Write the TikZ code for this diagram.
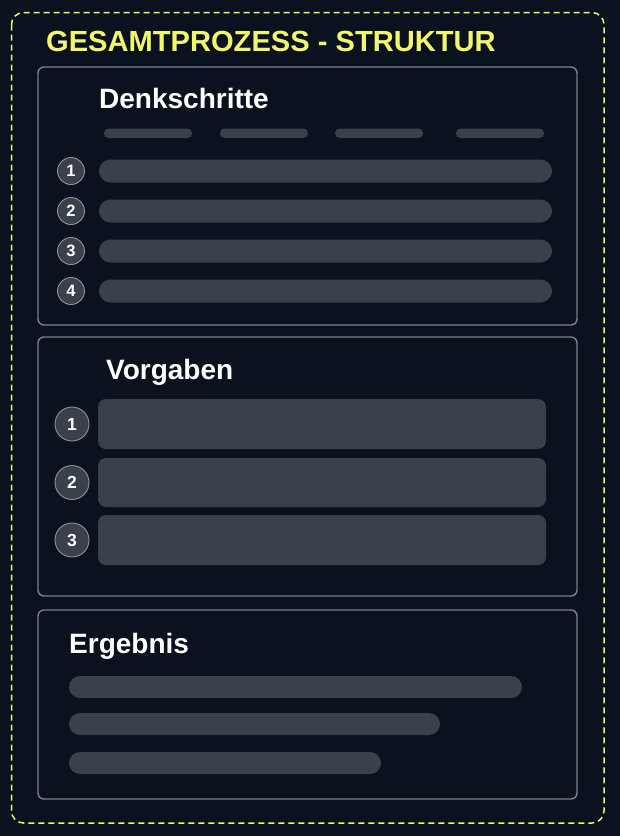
\documentclass[tikz,border=0pt]{standalone}
\usepackage{fontspec}
\setmainfont{Liberation Sans}
\definecolor{bgc}{HTML}{0A1220}
\definecolor{panelc}{HTML}{7A8089}
\definecolor{pillc}{HTML}{3A414B}
\definecolor{circc}{HTML}{8E949C}
\definecolor{yel}{HTML}{F3F56C}
\tikzset{
  panel/.style={draw=panelc, line width=1.4pt, rounded corners=6pt, fill=bgc},
  pill/.style={fill=pillc, draw=none},
  numc/.style={circle, fill=pillc, draw=circc, line width=0.9pt, text=white, font=\bfseries\fontsize{16.5}{16}\selectfont, inner sep=0pt},
  heading/.style={anchor=base west, inner sep=0pt, text=white, font=\bfseries\fontsize{28}{28}\selectfont},
}
\begin{document}
\begin{tikzpicture}[x=1pt,y=-1pt]
\fill[bgc] (0,0) rectangle (620,836);
\useasboundingbox (0,0) rectangle (620,836);
% outer dashed frame
\draw[yel, line width=1.5pt, dash pattern=on 6pt off 4pt, rounded corners=12pt] (11.5,12.5) rectangle (604,823);
\node[anchor=base west, inner sep=0pt, text=yel, font=\bfseries\fontsize{29.1}{30}\selectfont] (title) at (46,51) {GESAMTPROZESS - STRUKTUR};

% Panel 1
\draw[panel] (38,67) rectangle (577,325);
\node[heading] (h1) at (99,108) {Denkschritte};
\foreach \a/\b in {104/192, 220/308, 335/423, 456/544}
  \fill[pill, rounded corners=4.5pt] (\a,128.5) rectangle (\b,138);
\foreach \i/\y in {1/171, 2/211, 3/251, 4/291}{
  \node[numc, minimum size=27pt] (d\i) at (71,\y) {\i};
  \fill[pill, rounded corners=11.5pt] (99,\y-11.5) rectangle (552,\y+11.5);
}

% Panel 2
\draw[panel] (38,337) rectangle (577,596);
\node[heading] (h2) at (106,379) {Vorgaben};
\foreach \i/\a/\b in {1/399/449, 2/458/507, 3/515/565}{
  \node[numc, minimum size=34pt, font=\bfseries\fontsize{17.5}{17}\selectfont] (v\i) at (72,{(\a+\b)/2}) {\i};
  \fill[pill, rounded corners=8pt] (98,\a) rectangle (546,\b);
}

% Panel 3
\draw[panel] (38,610) rectangle (577,799);
\node[heading] (h3) at (69,653) {Ergebnis};
\fill[pill, rounded corners=11pt] (69,676) rectangle (522,698);
\fill[pill, rounded corners=11pt] (69,713) rectangle (440,735);
\fill[pill, rounded corners=11pt] (69,752) rectangle (381,774);
\end{tikzpicture}
\end{document}
